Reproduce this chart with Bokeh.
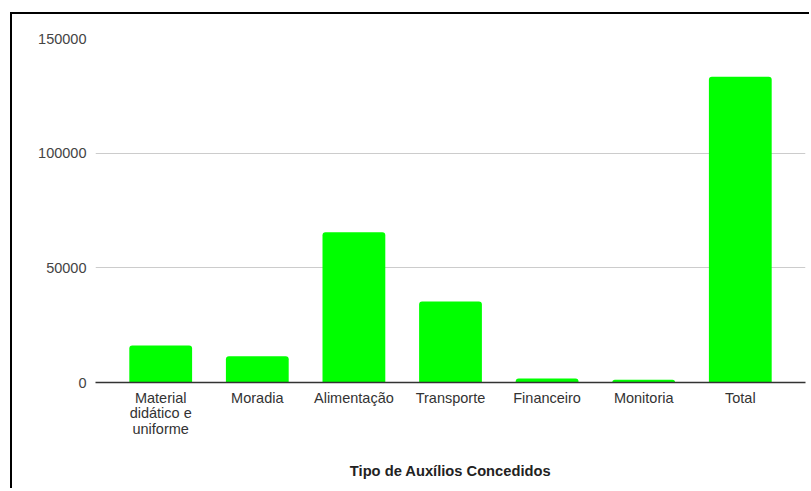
from bokeh.plotting import figure
from bokeh.models import Range1d, FactorRange, BasicTickFormatter, FixedTicker
from bokeh.embed import file_html
from bokeh.resources import INLINE

categories = ["Material\ndidático e\nuniforme", "Moradia", "Alimentação", "Transporte",
              "Financeiro", "Monitoria", "Total"]
values = [16100, 11400, 65500, 35300, 1750, 1150, 133300]
y_ticks = [0, 50000, 100000, 150000]
x_title = "Tipo de Auxílios Concedidos"

FONT = "Liberation Sans"

p = figure(
    x_range=FactorRange(*categories, range_padding=0.05, range_padding_units="percent"),
    y_range=Range1d(0, 150000),
    width=799, height=476,
    output_backend="svg", toolbar_location=None,
    min_border_left=83, min_border_top=24, min_border_right=6, min_border_bottom=108,
)
p.styles = {"border-left": "2px solid #000", "border-top": "2px solid #000",
            "margin-left": "10px", "margin-top": "12px"}

p.vbar(x=categories, top=values, width=0.65, fill_color="#00ff00", line_color=None,
       border_radius=(3, 3, 0, 0))

p.outline_line_color = None
p.background_fill_color = "white"
p.border_fill_color = "white"

p.xgrid.grid_line_color = None
p.ygrid.grid_line_color = "#cccccc"
p.ygrid.grid_line_width = 1

p.yaxis.ticker = FixedTicker(ticks=y_ticks)
p.yaxis.formatter = BasicTickFormatter(use_scientific=False)
p.yaxis.axis_line_color = None
p.yaxis.major_tick_line_color = None
p.yaxis.minor_tick_line_color = None
p.yaxis.major_label_standoff = 3
p.yaxis.major_label_text_font = FONT
p.yaxis.major_label_text_font_size = "14.5px"
p.yaxis.major_label_text_color = "#444444"

p.xaxis.axis_line_color = "#333333"
p.xaxis.axis_line_width = 1.5
p.xaxis.major_tick_line_color = None
p.xaxis.minor_tick_line_color = None
p.xaxis.major_label_standoff = 1
p.xaxis.major_label_text_font = FONT
p.xaxis.major_label_text_font_size = "14.5px"
p.xaxis.major_label_text_line_height = 0.97
p.xaxis.major_label_text_color = "#333333"
p.xaxis.axis_label = x_title
p.xaxis.axis_label_text_font = FONT
p.xaxis.axis_label_text_font_size = "14.7px"
p.xaxis.axis_label_text_font_style = "bold"
p.xaxis.axis_label_text_color = "#222222"
p.xaxis.axis_label_standoff = 23

open("out.html", "w").write(file_html(p, INLINE))
